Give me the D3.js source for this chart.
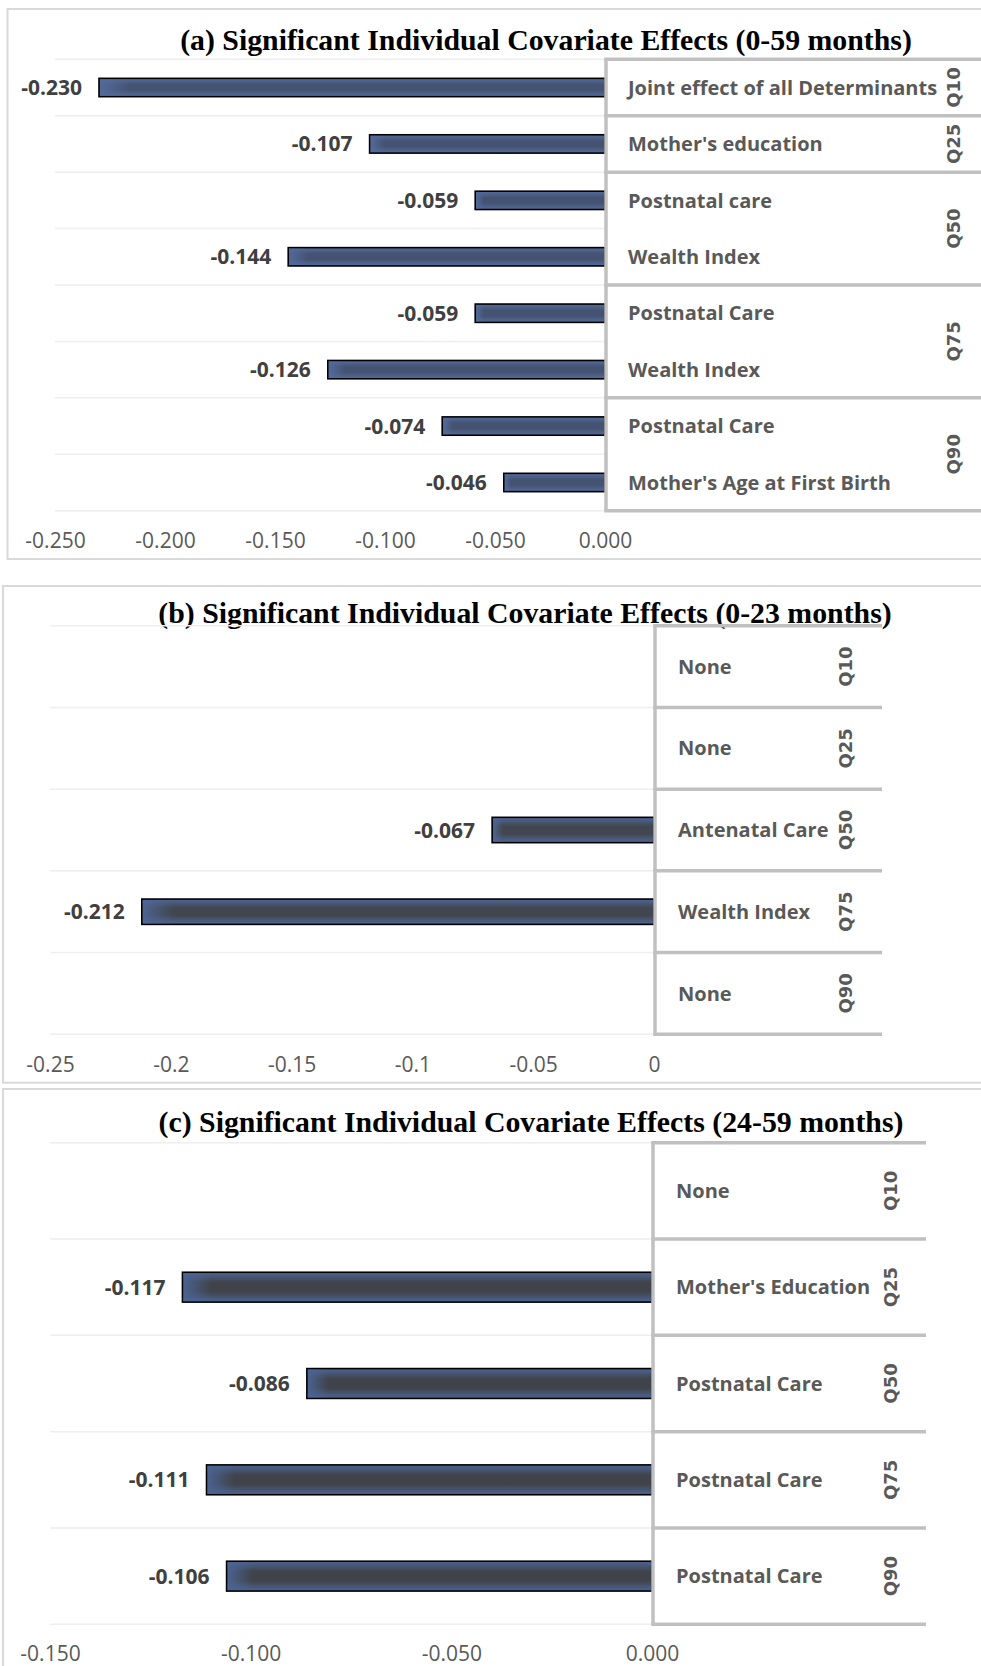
<!DOCTYPE html>
<html>
<head>
<meta charset="utf-8">
<script src="https://cdn.jsdelivr.net/npm/d3@7"></script>
<style>
  html, body { margin: 0; padding: 0; background: #fff; }
  svg { display: block; }
</style>
</head>
<body>
<svg id="chart" width="981" height="1666"></svg>
<script>
// ---- (a) 0-59 months ----
const quantilesA  = ["Q10", "Q25", "Q50", "Q50", "Q75", "Q75", "Q90", "Q90"];
const covariatesA = ["Joint effect of all Determinants", "Mother's education", "Postnatal care", "Wealth Index",
                     "Postnatal Care", "Wealth Index", "Postnatal Care", "Mother's Age at First Birth"];
const effectsA    = [-0.230, -0.107, -0.059, -0.144, -0.059, -0.126, -0.074, -0.046];
const ticksA      = [-0.25, -0.2, -0.15, -0.1, -0.05, 0];
const tickLabelsA = ["-0.250", "-0.200", "-0.150", "-0.100", "-0.050", "0.000"];

// ---- (b) 0-23 months ----
const quantilesB  = ["Q10", "Q25", "Q50", "Q75", "Q90"];
const covariatesB = ["None", "None", "Antenatal Care", "Wealth Index", "None"];
const effectsB    = [null, null, -0.067, -0.212, null];
const ticksB      = [-0.25, -0.2, -0.15, -0.1, -0.05, 0];
const tickLabelsB = ["-0.25", "-0.2", "-0.15", "-0.1", "-0.05", "0"];

// ---- (c) 24-59 months ----
const quantilesC  = ["Q10", "Q25", "Q50", "Q75", "Q90"];
const covariatesC = ["None", "Mother's Education", "Postnatal Care", "Postnatal Care", "Postnatal Care"];
const effectsC    = [null, -0.117, -0.086, -0.111, -0.106];
const ticksC      = [-0.15, -0.1, -0.05, 0];
const tickLabelsC = ["-0.150", "-0.100", "-0.050", "0.000"];

const titles = [
  "(a) Significant Individual Covariate Effects (0-59 months)",
  "(b) Significant Individual Covariate Effects (0-23 months)",
  "(c) Significant Individual Covariate Effects (24-59 months)"
];

const svg = d3.select("#chart");
const defs = svg.append("defs");

const SANS = "'Open Sans', 'Noto Sans', sans-serif";
const SERIF = "'Liberation Serif', 'Times New Roman', serif";

function makeGradient(id, edge, mid) {
  const g = defs.append("linearGradient").attr("id", id)
    .attr("x1", 0).attr("y1", 0).attr("x2", 0).attr("y2", 1);
  g.append("stop").attr("offset", "0%").attr("stop-color", edge);
  g.append("stop").attr("offset", "35%").attr("stop-color", mid);
  g.append("stop").attr("offset", "65%").attr("stop-color", mid);
  g.append("stop").attr("offset", "100%").attr("stop-color", edge);
  const h = defs.append("linearGradient").attr("id", id + "-side")
    .attr("x1", 0).attr("y1", 0).attr("x2", 1).attr("y2", 0);
  h.append("stop").attr("offset", "0%").attr("stop-color", edge).attr("stop-opacity", 0.9);
  h.append("stop").attr("offset", "6%").attr("stop-color", edge).attr("stop-opacity", 0);
  h.append("stop").attr("offset", "100%").attr("stop-color", edge).attr("stop-opacity", 0);
}
makeGradient("barA", "#536c9e", "#455372");
makeGradient("barB", "#4e6698", "#42474f");
makeGradient("barC", "#4c6596", "#404349");

function drawPanel(cfg) {
  const g = svg.append("g");
  const n = cfg.covariates.length;

  // outer frame
  g.append("rect")
    .attr("x", cfg.frame.x).attr("y", cfg.frame.y)
    .attr("width", cfg.frame.w).attr("height", cfg.frame.h)
    .attr("fill", "none").attr("stroke", "#d9d9d9").attr("stroke-width", 2);

  // title
  g.append("text")
    .attr("x", cfg.titleX).attr("y", cfg.titleY)
    .attr("text-anchor", "middle")
    .style("font-family", SERIF).style("font-weight", "bold")
    .style("font-size", cfg.titleSize + "px").attr("fill", "#000")
    .text(cfg.title);

  const x = d3.scaleLinear().domain(cfg.domain).range(cfg.xRange);
  const y = d3.scaleBand().domain(d3.range(n)).range(cfg.rows).paddingInner(0).paddingOuter(0);
  const step = y.step();
  const barH = step * cfg.barRatio;

  // horizontal gridlines at row boundaries
  g.append("g").selectAll("line")
    .data(d3.range(n + 1))
    .join("line")
    .attr("x1", cfg.xRange[0]).attr("x2", x(0))
    .attr("y1", i => cfg.rows[0] + i * step).attr("y2", i => cfg.rows[0] + i * step)
    .attr("stroke", "#eeeeee").attr("stroke-width", 1.5);

  // bars
  const rows = d3.range(n).filter(i => cfg.effects[i] !== null);
  const bars = g.append("g");
  bars.selectAll("rect.bar")
    .data(rows)
    .join("rect").attr("class", "bar")
    .attr("x", i => x(cfg.effects[i]))
    .attr("y", i => y(i) + (step - barH) / 2)
    .attr("width", i => x(0) - x(cfg.effects[i]))
    .attr("height", barH)
    .attr("fill", `url(#${cfg.grad})`)
    .attr("stroke", "#000").attr("stroke-width", 1.6);
  bars.selectAll("rect.side")
    .data(rows)
    .join("rect").attr("class", "side")
    .attr("x", i => x(cfg.effects[i]) + 1)
    .attr("y", i => y(i) + (step - barH) / 2 + 1)
    .attr("width", i => x(0) - x(cfg.effects[i]) - 2)
    .attr("height", barH - 2)
    .attr("fill", `url(#${cfg.grad}-side)`);

  // value labels
  g.append("g").selectAll("text")
    .data(rows)
    .join("text")
    .attr("x", i => x(cfg.effects[i]) - 17)
    .attr("y", i => y(i) + step / 2)
    .attr("dy", "0.36em")
    .attr("text-anchor", "end")
    .style("font-family", SANS).style("font-weight", "bold")
    .style("font-size", "21px").attr("fill", "#404040")
    .text(i => d3.format(".3f")(cfg.effects[i]).replace("\u2212", "-"));

  // x axis
  const axis = d3.axisBottom(x)
    .tickValues(cfg.ticks)
    .tickFormat((d, i) => cfg.tickLabels[i])
    .tickSize(0).tickPadding(cfg.tickPad);
  const ax = g.append("g").attr("transform", `translate(0,${cfg.rows[1]})`).call(axis);
  ax.select(".domain").remove();
  ax.selectAll("text")
    .style("font-family", SANS).style("font-size", "21px").attr("fill", "#595959");

  // category table on the right
  const groups = [];
  cfg.quantiles.forEach((q, i) => {
    if (groups.length && groups[groups.length - 1].q === q) groups[groups.length - 1].end = i + 1;
    else groups.push({ q, start: i, end: i + 1 });
  });

  g.append("g").selectAll("text")
    .data(d3.range(n))
    .join("text")
    .attr("x", cfg.labelX)
    .attr("y", i => y(i) + step / 2)
    .attr("dy", "0.36em")
    .style("font-family", SANS).style("font-weight", "bold")
    .style("font-size", "20px").attr("fill", "#595959")
    .text(i => cfg.covariates[i]);

  g.append("g").selectAll("text")
    .data(groups)
    .join("text")
    .attr("transform", d => `translate(${cfg.qX},${cfg.rows[0] + (d.start + d.end) / 2 * step}) rotate(-90)`)
    .attr("dy", "0.36em")
    .attr("text-anchor", "middle")
    .style("font-family", "'DejaVu Sans', Verdana, sans-serif").style("font-weight", "bold")
    .style("font-size", "18px").attr("fill", "#595959")
    .text(d => d.q);

  const boxX = x(0) + 1;
  const bounds = [groups[0].start].concat(groups.map(d => d.end));
  g.append("g").selectAll("line")
    .data(bounds)
    .join("line")
    .attr("x1", boxX - 1.75).attr("x2", cfg.boxRight)
    .attr("y1", b => cfg.rows[0] + b * step).attr("y2", b => cfg.rows[0] + b * step)
    .attr("stroke", "#c0c0c0").attr("stroke-width", 3.5);
  g.append("line")
    .attr("x1", boxX).attr("x2", boxX)
    .attr("y1", cfg.rows[0]).attr("y2", cfg.rows[1])
    .attr("stroke", "#c0c0c0").attr("stroke-width", 3.5);
}

drawPanel({
  title: titles[0], titleX: 546, titleY: 50, titleSize: 29.8,
  frame: { x: 7.5, y: 9, w: 1000, h: 550 },
  quantiles: quantilesA, covariates: covariatesA, effects: effectsA,
  ticks: ticksA, tickLabels: tickLabelsA,
  domain: [-0.25, 0], xRange: [55, 605], rows: [59.3, 510.7], barRatio: 0.325,
  tickPad: 22.7, labelX: 628, qX: 954, boxRight: 990, grad: "barA"
});

drawPanel({
  title: titles[1], titleX: 525, titleY: 623, titleSize: 29.8,
  frame: { x: 3, y: 586, w: 1000, h: 496.7 },
  quantiles: quantilesB, covariates: covariatesB, effects: effectsB,
  ticks: ticksB, tickLabels: tickLabelsB,
  domain: [-0.25, 0], xRange: [50, 654], rows: [625.7, 1034.3], barRatio: 0.31,
  tickPad: 22.8, labelX: 678, qX: 845.5, boxRight: 882, grad: "barB"
});

drawPanel({
  title: titles[2], titleX: 531, titleY: 1131.7, titleSize: 29.8,
  frame: { x: 3, y: 1089, w: 1000, h: 620 },
  quantiles: quantilesC, covariates: covariatesC, effects: effectsC,
  ticks: ticksC, tickLabels: tickLabelsC,
  domain: [-0.15, 0], xRange: [50, 652], rows: [1142.7, 1624.3], barRatio: 0.31,
  tickPad: 21.8, labelX: 676, qX: 891, boxRight: 926, grad: "barC"
});
</script>
</body>
</html>
